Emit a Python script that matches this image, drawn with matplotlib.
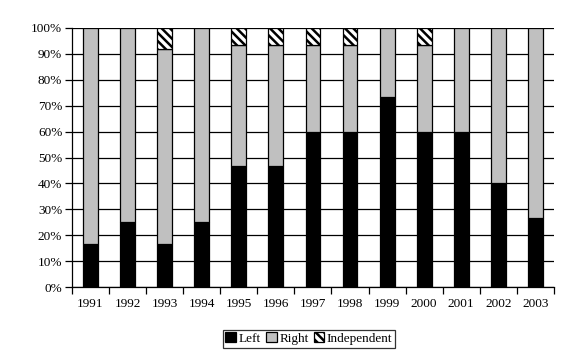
import matplotlib.pyplot as plt
import numpy as np
from matplotlib.ticker import FixedLocator, PercentFormatter

years = ["1991", "1992", "1993", "1994", "1995", "1996", "1997",
         "1998", "1999", "2000", "2001", "2002", "2003"]
left = [16.7, 25.0, 16.7, 25.0, 46.7, 46.7, 60.0, 60.0, 73.3, 60.0, 60.0, 40.0, 26.7]
independent = [0, 0, 8.3, 0, 6.7, 6.7, 6.7, 6.7, 0, 6.7, 0, 0, 0]
right = [100 - l - i for l, i in zip(left, independent)]

plt.rcParams["font.family"] = ["Liberation Serif", "DejaVu Serif"]
plt.rcParams["hatch.linewidth"] = 1.8

fig = plt.figure(figsize=(5.69, 3.58), dpi=100)
ax = fig.add_axes([0.1265, 0.198, 0.847, 0.724])

x = np.arange(len(years))
w = 0.4
kw = dict(width=w, edgecolor="black", linewidth=0.9, zorder=3)
ax.bar(x, left, color="black", label="Left", **kw)
ax.bar(x, right, bottom=left, color="#c0c0c0", label="Right", **kw)
bottoms = [l + r for l, r in zip(left, right)]
ind_x = [xi for xi, v in zip(x, independent) if v > 0]
ind_v = [v for v in independent if v > 0]
ind_b = [b for b, v in zip(bottoms, independent) if v > 0]
ax.bar(ind_x, ind_v, bottom=ind_b, color="white", hatch="\\\\\\\\",
       label="Independent", **kw)

ax.set_xlim(-0.5, len(years) - 0.5)
ax.set_ylim(0, 100)
ax.set_yticks(np.arange(0, 101, 10))
ax.yaxis.set_major_formatter(PercentFormatter(decimals=0))
ax.yaxis.grid(True, color="black", linewidth=0.9, zorder=0)
ax.set_axisbelow(True)

ax.set_xticks(x)
ax.set_xticklabels(years)
ax.xaxis.set_minor_locator(FixedLocator(np.arange(-0.5, len(years), 1)))
ax.tick_params(axis="x", which="major", length=0, pad=8, labelsize=9.5)
ax.tick_params(axis="x", which="minor", length=5, width=0.9, direction="out")
ax.tick_params(axis="y", length=5, width=0.9, labelsize=9.5, pad=2)

for s in ["top", "right"]:
    ax.spines[s].set_visible(False)
for s in ["left", "bottom"]:
    ax.spines[s].set_linewidth(0.9)

leg = fig.legend(loc="center", bbox_to_anchor=(0.543, 0.054), ncol=3,
                 frameon=True, fancybox=False, edgecolor="black",
                 fontsize=9.5, handlelength=0.8, handleheight=0.8,
                 handletextpad=0.2, columnspacing=0.4, borderpad=0.2,
                 borderaxespad=0)
leg.get_frame().set_linewidth(0.9)

fig.savefig("out.png", dpi=100)
